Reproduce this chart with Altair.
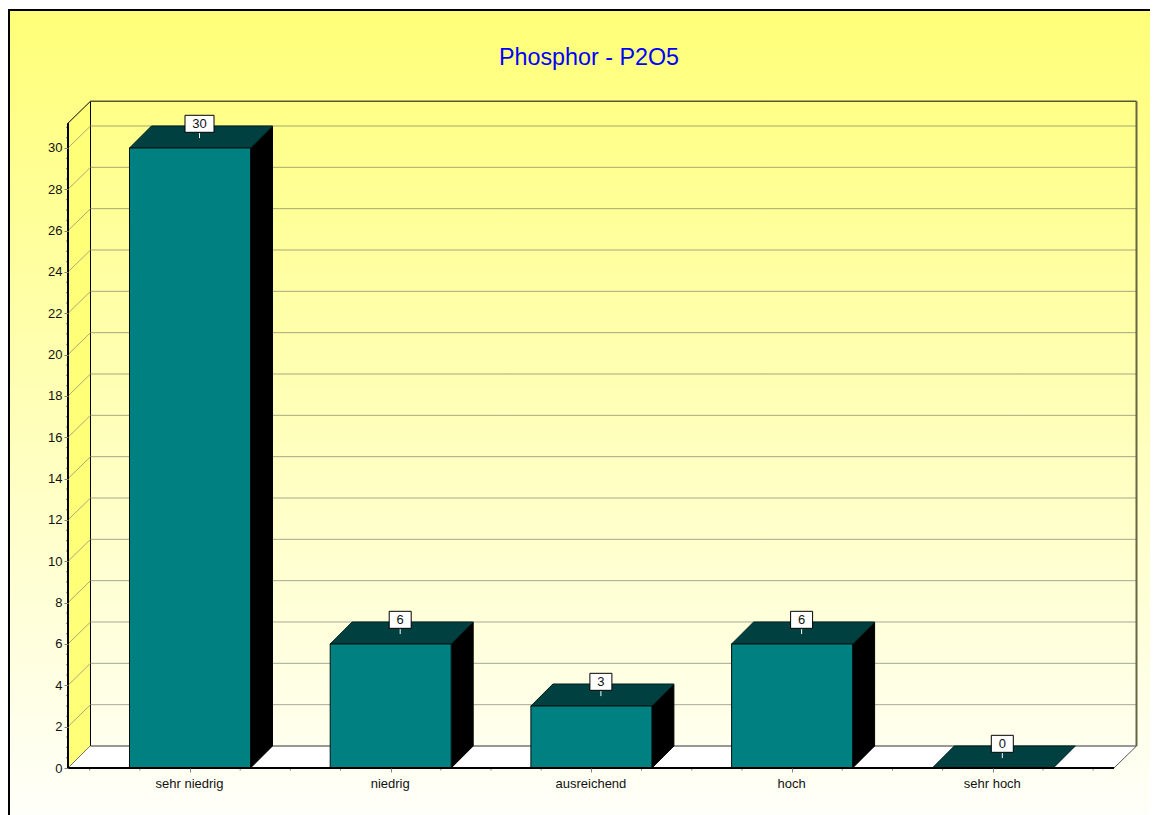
import json
import numpy as np
import pandas as pd
import altair as alt

TITLE = "Phosphor - P2O5"
CATEGORIES = ["sehr niedrig", "niedrig", "ausreichend", "hoch", "sehr hoch"]
VALUES = [30, 6, 3, 6, 0]
Y_LABELS = list(range(0, 31, 2))
GRID_VALUES = list(range(2, 31, 2))

W, H = 1142, 807
X_UNIT, Y_UNIT = 200.7, 20.667
X_ORIGIN_VIEW, Y_ORIGIN_VIEW = 182.0, 760.0
X_DOMAIN = [1 - X_ORIGIN_VIEW / X_UNIT, 1 + (W - X_ORIGIN_VIEW) / X_UNIT]
Y_DOMAIN = [-(H - Y_ORIGIN_VIEW) / Y_UNIT, Y_ORIGIN_VIEW / Y_UNIT]

DX, DY = 22.5 / X_UNIT, 22.0 / Y_UNIT       # depth of the 3D box
BAR_DX = 22.0 / X_UNIT
HALF = 60.5 / X_UNIT                        # half bar width
LEFT = 1 - 122.0 / X_UNIT                   # front left corner of the floor
RIGHT = 1 + 924.0 / X_UNIT                  # front right corner of the floor
TOP = 31.2

xs = alt.Scale(domain=X_DOMAIN, nice=False, zero=False)
ys = alt.Scale(domain=Y_DOMAIN, nice=False, zero=False)


def X(f, **k):
    return alt.X(f, type="quantitative", scale=xs, axis=None, **k)


def Y(f, **k):
    return alt.Y(f, type="quantitative", scale=ys, axis=None, **k)


def segs(rows):
    return pd.DataFrame(rows, columns=["x", "x2", "y", "y2"])


def rule(rows, **mark):
    return alt.Chart(segs(rows)).mark_rule(**mark).encode(
        x=X("x"), x2="x2", y=Y("y"), y2="y2"
    )


def vface(rows, **mark):
    d = pd.DataFrame(rows, columns=["id", "px", "lo", "hi"])
    return alt.Chart(d).mark_area(orient="vertical", interpolate="linear", **mark).encode(
        x=X("px"), y=Y("lo", stack=None), y2="hi", detail="id:N"
    )


def hface(rows, **mark):
    d = pd.DataFrame(rows, columns=["id", "py", "lo", "hi"])
    return alt.Chart(d).mark_area(orient="horizontal", interpolate="linear", **mark).encode(
        y=Y("py"), x=X("lo", stack=None), x2="hi", detail="id:N"
    )


# page background with its border
background = alt.Chart(pd.DataFrame({"a": [0]})).mark_rect(
    fill=alt.LinearGradient(
        gradient="linear", x1=0, y1=0, x2=0, y2=1,
        stops=[alt.GradientStop(offset=0, color="#FFFF78"),
               alt.GradientStop(offset=1, color="#FFFFFA")],
    ),
    stroke="black", strokeWidth=2,
).encode(x=alt.value(1), x2=alt.value(1400), y=alt.value(2), y2=alt.value(812))

left_wall = vface(
    [(0, LEFT, 0, TOP), (0, LEFT + DX, DY, TOP + DY)],
    fill="#FFFF78", stroke="black", strokeWidth=1,
)
floor = hface(
    [(0, 0, LEFT, RIGHT), (0, DY, LEFT + DX, RIGHT + DX)],
    fill="white",
)
floor_back = rule([(LEFT + DX, RIGHT + DX, DY, DY)], color="#333333", strokeWidth=1)
floor_right = rule([(RIGHT, RIGHT + DX, 0, DY)], color="#555555", strokeWidth=1)
wall_top = rule([(LEFT + DX, RIGHT + DX, TOP + DY, TOP + DY)], color="#555533", strokeWidth=1.5)
wall_right = rule([(RIGHT + DX, RIGHT + DX, DY, TOP + DY)], color="#666644", strokeWidth=2)

grid_back = rule([(LEFT + DX, RIGHT + DX, v + DY, v + DY) for v in GRID_VALUES],
                 color="#505050", strokeWidth=1, strokeDash=[1, 1])
grid_side = rule([(LEFT, LEFT + DX, v, v + DY) for v in GRID_VALUES],
                 color="#A8A880", strokeWidth=1)

# bars
side_rows, top_rows, front_rows = [], [], []
for i, v in enumerate(VALUES):
    c = i + 1
    top_rows += [(i, v, c - HALF, c + HALF), (i, v + DY, c - HALF + BAR_DX, c + HALF + BAR_DX)]
    if v > 0:
        side_rows += [(i, c + HALF, 0, v), (i, c + HALF + BAR_DX, DY, v + DY)]
        front_rows.append({"x": c - HALF, "x2": c + HALF, "y": 0, "y2": v})

bar_side = vface(side_rows, fill="black", stroke="black", strokeWidth=1)
bar_top = hface(top_rows, fill="#004040", stroke="#002020", strokeWidth=1)
bar_front = alt.Chart(pd.DataFrame(front_rows)).mark_rect(
    fill="#008080", stroke="#001010", strokeWidth=1
).encode(x=X("x"), x2="x2", y=Y("y"), y2="y2")

# axes (labels and major ticks come from the real axes, moved inside the view)
names_js = json.dumps(CATEGORIES)
x_axis_layer = alt.Chart(pd.DataFrame({"x": [1], "y": [0]})).mark_point(opacity=0).encode(
    x=alt.X("x:Q", scale=xs, title=None, axis=alt.Axis(
        values=[1, 2, 3, 4, 5], orient="bottom", offset=-(H - Y_ORIGIN_VIEW),
        labelExpr=f"{names_js}[datum.value - 1]", domain=False, grid=False,
        tickColor="#808080", tickSize=4, labelFont="Liberation Sans", labelFontSize=13,
        labelColor="#111111", labelPadding=5, labelOverlap=False, labelOffset=-1, zindex=1,
    )),
    y=alt.Y("y:Q", scale=ys, title=None, axis=alt.Axis(
        values=Y_LABELS, orient="left",
        offset=-(X_ORIGIN_VIEW - 122.0), domain=False, grid=False,
        tickColor="#808080", tickSize=4, labelFont="Liberation Sans", labelFontSize=13,
        labelColor="#111111", labelPadding=2, labelOverlap=False, zindex=1,
    )),
)

minor_y = [m for m in np.arange(0, 31.01, 0.5) if m not in Y_LABELS]
minor_x = [m for m in np.arange(0.5, 5.51, 0.25) if m not in (1, 2, 3, 4, 5)]
ticks_y = rule([(LEFT - 2 / X_UNIT, LEFT, m, m) for m in minor_y], color="#808080", strokeWidth=1)
ticks_x = rule([(m, m, 0, -2.5 / Y_UNIT) for m in minor_x], color="#808080", strokeWidth=1)

axis_y_line = rule([(LEFT, LEFT, 0, TOP)], color="black", strokeWidth=2)
axis_x_line = rule([(LEFT, RIGHT, 0, 0)], color="black", strokeWidth=2)

# value labels
LABEL_DX = 9.5 / X_UNIT
BOX_DY = 1.17
lab = pd.DataFrame({"c": [i + 1 + LABEL_DX for i in range(5)], "v": VALUES})
lab["text"] = lab["v"].astype(str)
lab["half"] = lab["text"].str.len().map({1: 11.0, 2: 14.5}) / X_UNIT
lab["x"] = lab["c"] - lab["half"]
lab["x2"] = lab["c"] + lab["half"]
lab["y"] = lab["v"] + BOX_DY - 8.5 / Y_UNIT
lab["y2"] = lab["v"] + BOX_DY + 8.5 / Y_UNIT
lab["ym"] = lab["v"] + BOX_DY
lab["p1"] = lab["v"] + 0.48
lab["p2"] = lab["v"] + 0.72
box = alt.Chart(lab).mark_rect(fill="white", stroke="black", strokeWidth=1).encode(
    x=X("x"), x2="x2", y=Y("y"), y2="y2")
pin = alt.Chart(lab).mark_rule(color="white", strokeWidth=1).encode(
    x=X("c"), y=Y("p1"), y2="p2")
txt = alt.Chart(lab).mark_text(font="Liberation Sans", fontSize=13, color="#111111",
                               baseline="middle", align="center").encode(
    x=X("c"), y=Y("ym"), text="text:N")

chart = alt.layer(
    background, left_wall, grid_side, floor, floor_back, floor_right,
    wall_top, wall_right, grid_back, ticks_y, ticks_x, x_axis_layer,
    bar_side, bar_top, bar_front, axis_y_line, axis_x_line, pin, box, txt,
).resolve_axis(x="independent", y="independent").properties(
    width=W, height=H, padding=0, autosize=alt.AutoSizeParams(type="none"),
    title=alt.TitleParams(TITLE, color="#0000FF", font="Liberation Sans", fontSize=23.3,
                          fontWeight="normal", anchor="start", dx=491, offset=-85,
                          baseline="bottom"),
).configure_view(stroke=None)

chart.save("out.html", embed_options={"renderer": "svg", "actions": False})
